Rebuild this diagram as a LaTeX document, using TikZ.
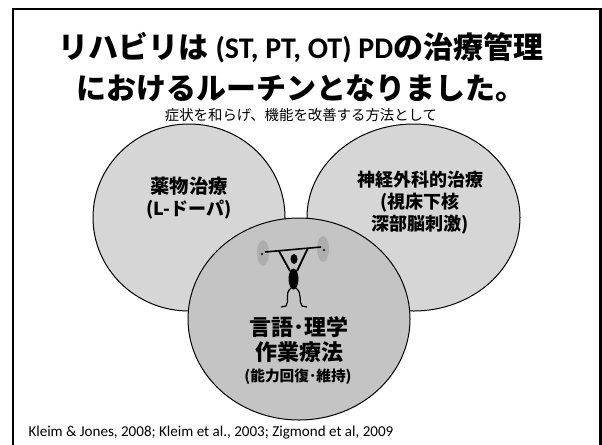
\documentclass[tikz,border=0pt]{standalone}
\usepackage{fontspec}
\setmainfont{Carlito}
\newfontfamily\jp{Noto Sans CJK JP}

\tikzset{every picture/.style={line width=0.75pt}}

\begin{document}
\begin{tikzpicture}[x=0.75pt,y=0.75pt,yscale=-1,xscale=1]
\useasboundingbox (0,0) rectangle (602,444);

%Frame (open at the bottom)
\draw [line width=1.9pt]  (13,446) -- (13,9) -- (600.5,9) -- (600.5,446) ;

%Shape: Circle [left]
\draw  [fill={rgb, 255:red, 214; green, 214; blue, 214 }  ] (189,217.5) ellipse (96 and 93.5) ;
%Shape: Circle [right]
\draw  [fill={rgb, 255:red, 214; green, 214; blue, 214 }  ] (413.5,217.5) ellipse (106.5 and 93.5) ;
%Shape: Circle [bottom]
\draw  [fill={rgb, 255:red, 196; green, 196; blue, 196 }  ] (299,319) ellipse (111 and 101) ;

%Weights
\fill [fill={rgb, 255:red, 160; green, 160; blue, 160 }, fill opacity=0.6] (263,253) ellipse (6 and 13) ;
\fill [fill={rgb, 255:red, 160; green, 160; blue, 160 }, fill opacity=0.6] (323,249) ellipse (6 and 13) ;
\fill (262,254) circle (1.1) ;
\fill (324,250) circle (1.1) ;
%Bar
\draw [line width=1.2pt]  (265,252) -- (321,247) ;
%Lifter
\draw [line width=1.4pt]  (279,251) -- (290,271) ;
\draw [line width=1.4pt]  (308,248) -- (297,271) ;
\fill  (294,259) ellipse (3.5 and 5) ;
\fill  (293.5,279) ellipse (5 and 10.5) ;
\draw [line width=0.9pt]  (291,288) .. controls (284,294) and (290,301) .. (286,306) -- (281,307) ;
\draw [line width=0.9pt]  (296,288) .. controls (303,294) and (298,301) .. (302,306) -- (307,307) ;

% Text Node
\draw (301,48) node [inner sep=0.75pt] (title1)  {\fontsize{22.5}{27}\selectfont\bfseries{\jp リハビリは} (ST, PT, OT) PD{\jp の治療管理}};
% Text Node
\draw (301,88) node [inner sep=0.75pt] (title2)  {\fontsize{22.5}{27}\selectfont\jp\bfseries におけるルーチンとなりました。};
% Text Node
\draw (301,115) node [inner sep=0.75pt] (sub)  {\fontsize{10.8}{12}\selectfont\jp 症状を和らげ、機能を改善する方法として};

% Text Node
\draw (189,186) node [inner sep=0.75pt, font=\jp\bfseries\fontsize{14.5}{18}\selectfont] (drug)  {薬物治療};
% Text Node
\draw (189,210) node [inner sep=0.75pt, font=\jp\bfseries\fontsize{13.5}{17}\selectfont] (ldopa)  {(L-ドーパ)};
% Text Node
\draw (420,203) node [inner sep=0.75pt, align=center, font=\jp\bfseries\fontsize{13.5}{16.5}\selectfont] (surg)  {神経外科的治療\\(視床下核\\深部脳刺激)};
% Text Node
\draw (299,339.5) node [inner sep=0.75pt, align=center, font=\jp\bfseries\fontsize{16.5}{18.75}\selectfont] (rehab)  {言語･理学\\作業療法};
% Text Node
\draw (298,377) node [inner sep=0.75pt, font=\jp\bfseries\fontsize{11}{14}\selectfont] (ability)  {(能力回復･維持)};

% Text Node
\draw (27,433) node [anchor=west][inner sep=0.75pt] (refs)  {\fontsize{11.3}{13}\selectfont Kleim \& Jones, 2008; Kleim et al., 2003; Zigmond et al, 2009};

\end{tikzpicture}
\end{document}
